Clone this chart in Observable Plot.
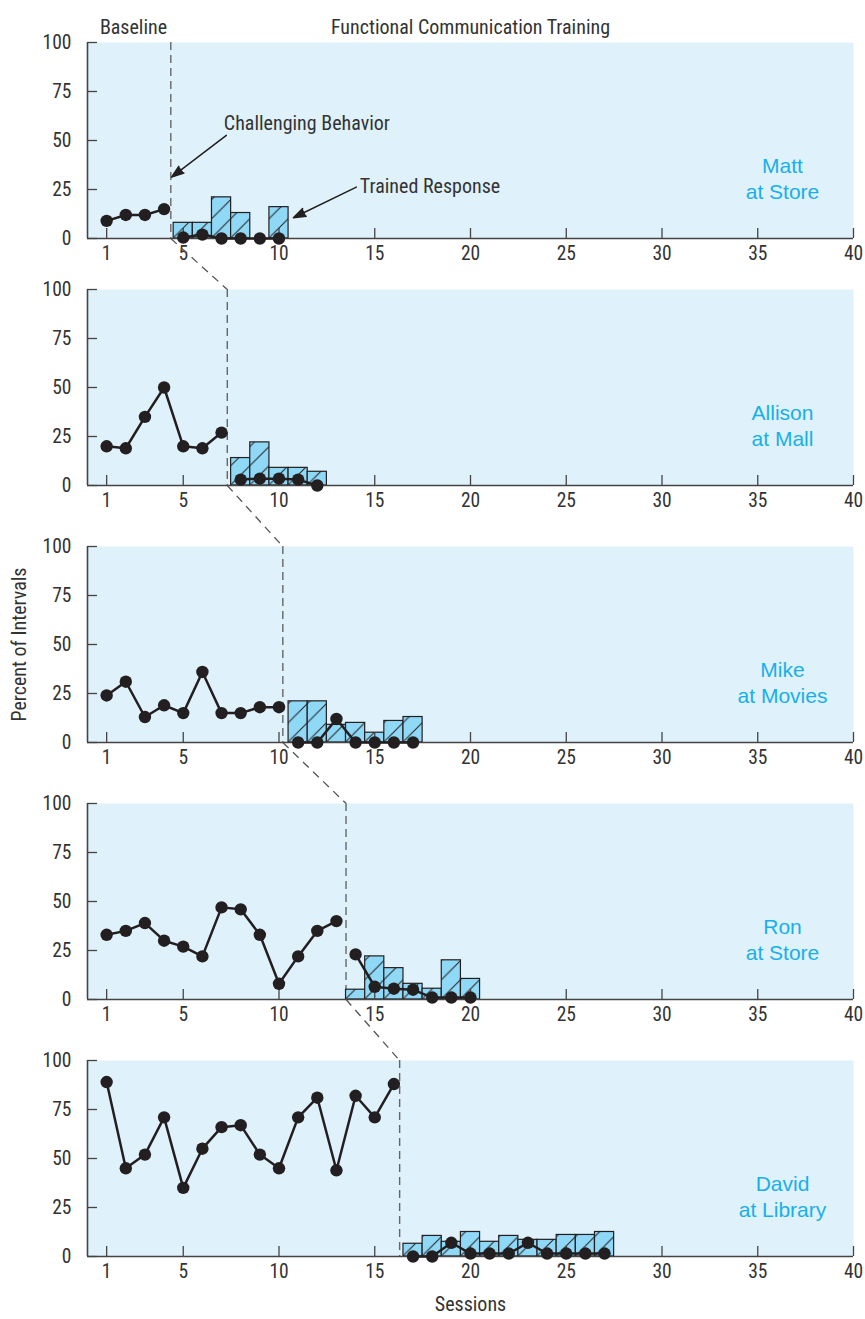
<!DOCTYPE html>
<html>
<head>
<meta charset="utf-8">
<script src="https://cdn.jsdelivr.net/npm/d3@7"></script>
<script src="https://cdn.jsdelivr.net/npm/@observablehq/plot@0.6"></script>
<style>
  html, body { margin: 0; padding: 0; background: #fff; overflow: hidden; }
  #chart { position: relative; width: 865px; height: 1319px; }
</style>
</head>
<body>
<svg width="0" height="0" style="position:absolute">
  <defs>
    <pattern id="hatch" patternUnits="userSpaceOnUse" width="19.15" height="19.15" patternTransform="translate(9.03,0)">
      <rect width="19.15" height="19.15" fill="#8fd8f6"></rect>
      <path d="M-1,1L1,-1M0,19.15L19.15,0M18.15,20.15L20.15,18.15" stroke="#231f20" stroke-width="1"></path>
    </pattern>
  </defs>
</svg>
<div id="chart"></div>
<script>
// ---------- data ----------
const names = ["Matt", "Allison", "Mike", "Ron", "David"];
const settings = ["at Store", "at Mall", "at Movies", "at Store", "at Library"];
const xTicks = [1, 5, 10, 15, 20, 25, 30, 35, 40];
const yTicks = [0, 25, 50, 75, 100];
const phaseChange = [4.35, 7.3, 10.2, 13.5, 16.3];

// Challenging behavior during baseline (sessions 1..n)
const baselineBehavior = [
  [9, 12, 12, 15],
  [20, 19, 35, 50, 20, 19, 27],
  [24, 31, 13, 19, 15, 36, 15, 15, 18, 18],
  [33, 35, 39, 30, 27, 22, 47, 46, 33, 8, 22, 35, 40],
  [89, 45, 52, 71, 35, 55, 66, 67, 52, 45, 71, 81, 44, 82, 71, 88]
];
// Challenging behavior during FCT (sessions n+1..)
const fctBehavior = [
  [0.5, 2, 0, 0, 0, 0],
  [3, 3.5, 3.5, 3, 0],
  [0, 0, 12, 0, 0, 0, 0],
  [23, 6.5, 5.5, 5, 1, 1, 1],
  [0, 0, 7, 1.5, 1.5, 1.5, 7, 1.5, 1.5, 1.5, 1.5]
];
// Trained response during FCT (bars)
const fctTrained = [
  [8, 8, 21, 13, null, 16],
  [14, 22, 9, 9, 7],
  [21, 21, 9, 10, 5, 11, 13],
  [5, 22, 16, 8, 5.5, 20, 10.5],
  [6.5, 10.5, 7.5, 12.5, 7.5, 10.5, 8.5, 8.5, 11, 11, 12.5]
];
// annotations in Matt's panel
const annotationText = [
  {text: "Challenging Behavior", x: 7.12, y: 58.5},
  {text: "Trained Response", x: 14.22, y: 26.7}
];
const annotationArrows = [
  {x1: 7.25, y1: 52.6, x2: 4.39, y2: 31.3},
  {x1: 14.04, y1: 26.2, x2: 10.75, y2: 10.6}
];

// ---------- layout ----------
const panelTop = [42, 289, 546, 803, 1060];
const frameH = 196;
const mTop = 42, mBottom = 60, mLeft = 87, mRight = 12, W = 865;
const ink = "#231f20", axisColor = "#444", bg = "#dff1fb", cyan = "#17b0ea", textColor = "#333";
const narrow = '"Liberation Sans Narrow", "Arial Narrow", "Roboto Condensed", "DejaVu Sans Condensed", sans-serif';
const regular = '"Liberation Sans", Arial, Helvetica, sans-serif';

const chart = document.getElementById("chart");

names.forEach((name, i) => {
  const nb = baselineBehavior[i].length;
  const base = baselineBehavior[i].map((v, k) => ({s: k + 1, v}));
  const fct = fctBehavior[i].map((v, k) => ({s: nb + k + 1, v}));
  const bars = fctTrained[i].map((v, k) => ({s: nb + k + 1, v})).filter(d => d.v != null);

  const marks = [
    Plot.frame({fill: bg, stroke: "none"}),
    Plot.ruleX([phaseChange[i]], {stroke: "#666", strokeWidth: 1.4, strokeDasharray: "8,5"}),
    Plot.rect(bars, {x1: d => d.s - 0.5, x2: d => d.s + 0.5, y1: 0, y2: "v",
      fill: "url(#hatch)", stroke: ink, strokeWidth: 1.2}),
    Plot.ruleY([0], {stroke: axisColor, strokeWidth: 1.6}),
    Plot.ruleX([0], {stroke: axisColor, strokeWidth: 1.6}),
    Plot.tickX(xTicks, {x: d => d, insetTop: frameH - 10, stroke: axisColor, strokeWidth: 1.3}),
    Plot.tickY(yTicks, {y: d => d, insetRight: (W - mLeft - mRight) - 10, stroke: axisColor, strokeWidth: 1.3}),
    Plot.line(base, {x: "s", y: "v", stroke: ink, strokeWidth: 2.5}),
    Plot.line(fct, {x: "s", y: "v", stroke: ink, strokeWidth: 2.5}),
    Plot.dot(base, {x: "s", y: "v", r: 6.2, fill: ink, stroke: "none"}),
    Plot.dot(fct, {x: "s", y: "v", r: 6.2, fill: ink, stroke: "none"}),
    Plot.text(xTicks, {x: d => d, text: d => String(d), frameAnchor: "bottom", dy: 21,
      fontSize: 19.5, fill: textColor}),
    Plot.text(yTicks, {y: d => d, text: d => String(d), frameAnchor: "left", dx: -16,
      textAnchor: "end", fontSize: 19.5, fill: textColor}),
    Plot.text([name + "\n" + settings[i]], {text: d => d, frameAnchor: "right", dx: -71, dy: 37,
      textAnchor: "middle", fontSize: 21, lineHeight: 1.24, fill: cyan, fontFamily: regular})
  ];

  if (i < names.length - 1) {
    const gapUnits = (panelTop[i + 1] - panelTop[i] - frameH) / frameH * 100;
    marks.push(Plot.link([{x1: phaseChange[i], x2: phaseChange[i + 1]}], {
      x1: "x1", y1: 0, x2: "x2", y2: -gapUnits,
      stroke: "#555", strokeWidth: 1.3, strokeDasharray: "8,6"
    }));
  }
  if (i === 0) {
    marks.push(
      Plot.text(["Baseline"], {text: d => d, frameAnchor: "top-left", dx: 46, dy: -22.5,
        textAnchor: "middle", fontSize: 20, fill: textColor}),
      Plot.text(["Functional Communication Training"], {text: d => d, frameAnchor: "top", dy: -22.5,
        textAnchor: "middle", fontSize: 20, fill: textColor}),
      Plot.arrow(annotationArrows, {x1: "x1", y1: "y1", x2: "x2", y2: "y2",
        stroke: ink, fill: ink, strokeWidth: 1.5, headLength: 13, headAngle: 38}),
      Plot.text(annotationText, {x: "x", y: "y", text: "text", textAnchor: "start",
        fontSize: 20, fill: textColor})
    );
  }
  if (i === 2) {
    marks.push(Plot.text(["Percent of Intervals"], {text: d => d, frameAnchor: "left", dx: -68,
      rotate: -90, textAnchor: "middle", fontSize: 20, fill: textColor}));
  }
  if (i === names.length - 1) {
    marks.push(Plot.text(["Sessions"], {text: d => d, frameAnchor: "bottom", dy: 54,
      textAnchor: "middle", fontSize: 20, fill: textColor}));
  }

  const svg = Plot.plot({
    width: W,
    height: mTop + frameH + mBottom,
    marginTop: mTop, marginBottom: mBottom, marginLeft: mLeft, marginRight: mRight,
    x: {domain: [0, 40], axis: null},
    y: {domain: [0, 100], axis: null},
    style: {fontFamily: narrow, fontSize: "19px", overflow: "visible", background: "transparent", color: ink},
    marks
  });
  svg.style.position = "absolute";
  svg.style.left = "0px";
  svg.style.top = (panelTop[i] - mTop) + "px";
  chart.appendChild(svg);
});
</script>
</body>
</html>
